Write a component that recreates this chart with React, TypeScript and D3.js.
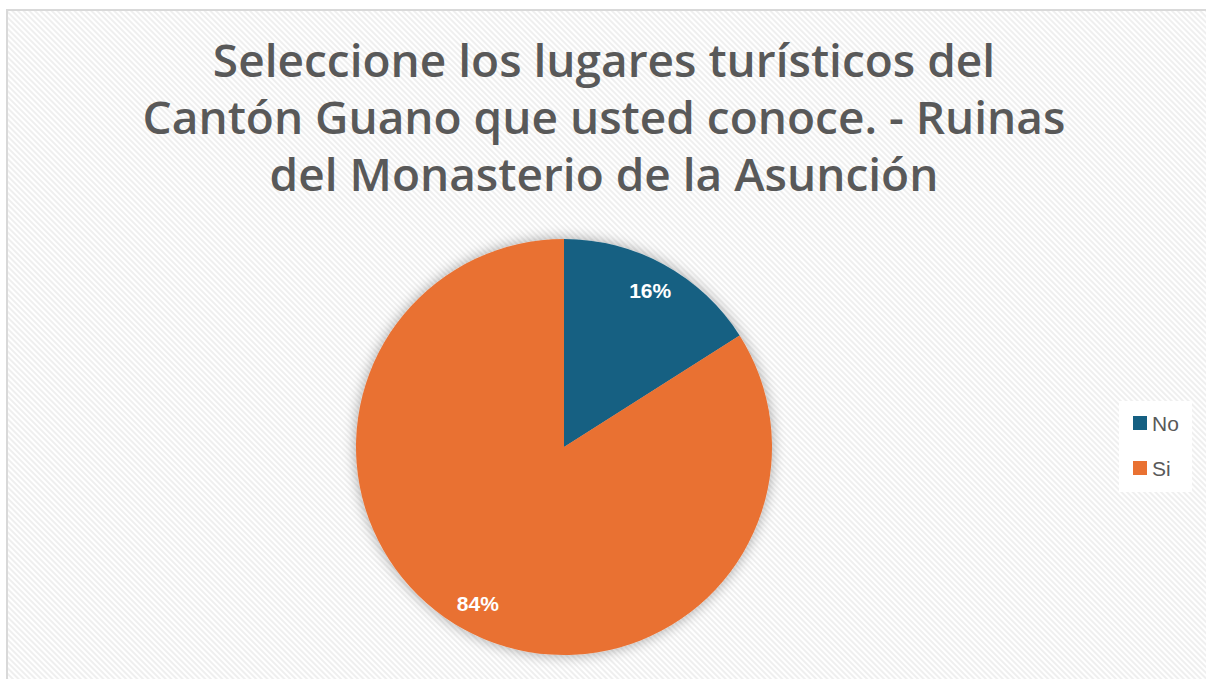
import React from "react";
import * as d3 from "d3";

const categories = ["No", "Si"];
const values = [16, 84];
const colors = ["#156082", "#E97132"];
const titleLines = [
  "Seleccione los lugares turísticos del",
  "Cantón Guano que usted conoce. - Ruinas",
  "del Monasterio de la Asunción",
];

export default function App() {
  const W = 1206, H = 679;
  const cx = 564, cy = 447, r = 208;
  const pie = d3.pie<number>().sort(null).value((d) => d)(values);
  const arc = d3.arc<d3.PieArcDatum<number>>().innerRadius(0).outerRadius(r);
  const labelArc = d3.arc<d3.PieArcDatum<number>>().innerRadius(r * 0.86).outerRadius(r * 0.86);
  const total = d3.sum(values);
  return (
    <svg width={W} height={H} style={{ position: "absolute", left: 0, top: 0 }}>
      <defs>
        <pattern id="stripes" width="4" height="4" patternUnits="userSpaceOnUse" patternTransform="rotate(-45)">
          <rect width="4" height="4" fill="#ffffff" />
          <rect width="2" height="4" fill="#efefef" />
        </pattern>
        <filter id="shadow" x="-20%" y="-20%" width="140%" height="140%">
          <feGaussianBlur in="SourceAlpha" stdDeviation="7" />
          <feOffset dx="0" dy="0" result="b" />
          <feComponentTransfer>
            <feFuncA type="linear" slope="0.35" />
          </feComponentTransfer>
          <feMerge>
            <feMergeNode />
            <feMergeNode in="SourceGraphic" />
          </feMerge>
        </filter>
      </defs>
      <rect x={0} y={0} width={W} height={H} fill="#ffffff" />
      <rect x={7} y={10} width={W + 10} height={H + 10} fill="url(#stripes)" stroke="#d9d9d9" strokeWidth={2} />
      <g fontFamily="'Open Sans', sans-serif" fontWeight={600} fontSize={46} fill="#595959" textAnchor="middle">
        {titleLines.map((t, i) => (
          <text key={i} x={604} y={77 + i * 57}>{t}</text>
        ))}
      </g>
      <g transform={`translate(${cx},${cy})`} filter="url(#shadow)">
        {pie.map((d, i) => (
          <path key={i} d={arc(d) || ""} fill={colors[i]} />
        ))}
      </g>
      <g transform={`translate(${cx},${cy})`} fontFamily="'Liberation Sans', Arial, sans-serif" fontWeight="bold" fontSize={21} fill="#ffffff" textAnchor="middle">
        {pie.map((d, i) => {
          const [x, y] = labelArc.centroid(d);
          return (
            <text key={i} x={x} y={y} dy="0.35em">{`${Math.round((values[i] / total) * 100)}%`}</text>
          );
        })}
      </g>
      <rect x={1119} y={401} width={73} height={91} fill="#ffffff" />
      <g fontFamily="'Liberation Sans', Arial, sans-serif" fontSize={21} fill="#595959">
        {categories.map((c, i) => (
          <g key={i} transform={`translate(1133,${423 + i * 45})`}>
            <rect x={0} y={-7} width={14} height={14} fill={colors[i]} />
            <text x={19} y={0} dy="0.36em">{c}</text>
          </g>
        ))}
      </g>
    </svg>
  );
}
